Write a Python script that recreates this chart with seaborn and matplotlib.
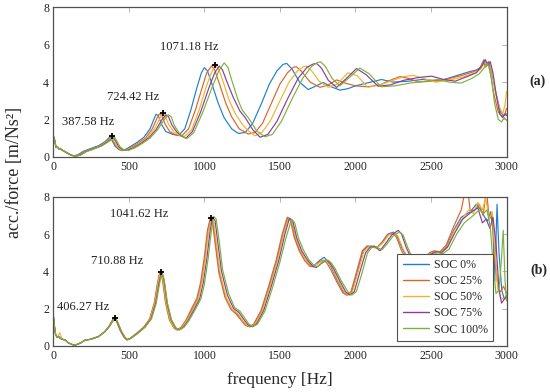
import matplotlib
matplotlib.use("Agg")
import matplotlib.pyplot as plt
import pandas as pd
import seaborn as sns

# ---- data ----
labels = ["SOC 0%", "SOC 25%", "SOC 50%", "SOC 75%", "SOC 100%"]
colors = ["#1f7fcf", "#e0622a", "#f0b42a", "#8a3d99", "#7ab33a"]

# panel (a)
freq_a0 = [0, 8, 18, 28, 38, 48, 60, 75, 95, 115, 135, 160, 200, 250, 300, 340, 360, 375, 390, 410,
           435, 460, 500, 550, 600, 640, 665, 680, 695, 715, 745, 790, 830, 870, 910, 950, 980, 1000, 1020, 1050,
           1090, 1130, 1180, 1225, 1270, 1320, 1380, 1430, 1480, 1520, 1545, 1580, 1630, 1687, 1740, 1786, 1840, 1897, 1950, 2000,
           2100, 2172, 2250, 2350, 2450, 2550, 2650, 2750, 2800, 2830, 2850, 2865, 2880, 2900, 2930, 2960, 2980, 3000]
acc_a0 = [1.15, 0.95, 0.5, 0.55, 0.4, 0.45, 0.35, 0.3, 0.2, 0.1, 0.05, 0.1, 0.3, 0.45, 0.6, 0.8, 0.95, 1.08, 0.85, 0.55,
          0.38, 0.33, 0.5, 0.75, 1.05, 1.5, 2.0, 2.28, 2.2, 1.75, 1.35, 1.2, 1.15, 1.5, 2.5, 3.7, 4.5, 4.78, 4.6, 3.9,
          2.9, 2.1, 1.5, 1.25, 1.3, 1.8, 2.9, 3.9, 4.6, 4.95, 5.0, 4.7, 4.0, 3.6, 3.8, 3.98, 3.75, 3.57, 3.65, 3.8,
          4.0, 4.14, 4.0, 4.05, 4.15, 4.05, 4.3, 4.55, 4.65, 4.8, 5.2, 4.9, 5.1, 4.6, 3.4, 2.4, 2.2, 2.3]

freq_a25 = [0, 8, 18, 28, 38, 48, 60, 75, 95, 118, 140, 165, 205, 255, 305, 345, 365, 382, 397, 417,
            442, 468, 510, 560, 610, 655, 685, 702, 718, 740, 770, 815, 850, 895, 940, 985, 1015, 1048, 1068, 1100,
            1140, 1180, 1230, 1290, 1335, 1385, 1445, 1500, 1550, 1590, 1610, 1645, 1700, 1765, 1820, 1875, 1930, 2000, 2080, 2160,
            2230, 2294, 2350, 2420, 2500, 2600, 2700, 2780, 2820, 2845, 2862, 2878, 2895, 2915, 2945, 2970, 2990, 3000]
acc_a25 = [1.1, 0.9, 0.5, 0.5, 0.45, 0.4, 0.35, 0.28, 0.18, 0.08, 0.04, 0.08, 0.28, 0.42, 0.58, 0.78, 0.92, 1.05, 0.85, 0.55,
           0.38, 0.34, 0.48, 0.72, 1.0, 1.5, 2.05, 2.3, 2.2, 1.75, 1.35, 1.15, 1.12, 1.5, 2.5, 3.7, 4.5, 4.87, 4.65, 3.9,
           2.9, 2.15, 1.5, 1.22, 1.3, 1.8, 2.9, 3.9, 4.5, 4.8, 4.82, 4.55, 4.0, 3.72, 3.85, 4.12, 3.95, 3.8, 3.75, 3.85,
           4.1, 4.3, 4.2, 4.0, 4.05, 4.15, 4.35, 4.55, 4.7, 5.1, 4.8, 5.0, 4.4, 3.4, 2.4, 2.15, 2.3, 2.6]

freq_a50 = [0, 8, 18, 28, 38, 48, 60, 75, 95, 120, 145, 170, 210, 260, 310, 350, 370, 388, 402, 422,
            448, 475, 520, 570, 620, 670, 705, 724, 740, 762, 795, 835, 870, 915, 965, 1010, 1045, 1074, 1095, 1125,
            1165, 1205, 1250, 1290, 1334, 1380, 1435, 1500, 1560, 1615, 1655, 1676, 1710, 1760, 1820, 1880, 1950, 2010, 2082, 2160,
            2250, 2320, 2382, 2450, 2530, 2620, 2720, 2790, 2830, 2855, 2870, 2888, 2905, 2925, 2950, 2975, 2990, 3000]
acc_a50 = [1.1, 0.9, 0.5, 0.55, 0.4, 0.45, 0.35, 0.28, 0.18, 0.08, 0.04, 0.08, 0.28, 0.42, 0.58, 0.78, 0.92, 1.1, 0.85, 0.55,
           0.38, 0.34, 0.48, 0.72, 1.0, 1.5, 2.05, 2.33, 2.2, 1.75, 1.35, 1.15, 1.1, 1.45, 2.5, 3.7, 4.5, 4.91, 4.7, 4.0,
           3.0, 2.3, 1.75, 1.4, 1.12, 1.3, 1.9, 3.0, 4.0, 4.6, 4.82, 4.86, 4.6, 4.05, 3.72, 3.9, 4.5, 4.35, 3.72, 3.85,
           4.1, 4.3, 4.36, 4.2, 4.0, 4.1, 4.3, 4.5, 4.7, 5.1, 4.9, 5.05, 4.5, 3.5, 2.7, 2.3, 2.8, 3.5]

freq_a75 = [0, 8, 18, 28, 38, 48, 60, 75, 95, 122, 148, 175, 215, 265, 315, 355, 378, 398, 412, 432,
            458, 485, 530, 580, 630, 680, 720, 745, 762, 785, 815, 850, 878, 920, 975, 1030, 1068, 1098, 1120, 1150,
            1190, 1235, 1270, 1320, 1368, 1420, 1480, 1550, 1620, 1680, 1720, 1743, 1775, 1820, 1875, 1940, 2007, 2070, 2150, 2230,
            2320, 2420, 2503, 2580, 2660, 2740, 2800, 2840, 2860, 2875, 2892, 2910, 2930, 2955, 2975, 2990, 3000]
acc_a75 = [1.1, 0.9, 0.5, 0.5, 0.42, 0.4, 0.35, 0.28, 0.18, 0.08, 0.04, 0.08, 0.28, 0.42, 0.58, 0.78, 0.92, 1.05, 0.85, 0.55,
           0.38, 0.34, 0.48, 0.72, 1.0, 1.45, 2.0, 2.25, 2.15, 1.7, 1.35, 1.1, 1.0, 1.35, 2.4, 3.7, 4.5, 4.86, 4.65, 4.0,
           3.2, 2.45, 2.1, 1.45, 1.05, 1.2, 1.9, 3.1, 4.2, 4.8, 4.97, 5.0, 4.75, 4.1, 3.72, 4.2, 4.73, 4.4, 3.78, 3.85,
           4.1, 4.25, 4.32, 4.15, 4.05, 4.3, 4.5, 4.9, 5.2, 4.9, 5.1, 4.5, 3.4, 2.3, 2.1, 2.3, 2.2]

freq_a100 = [0, 8, 18, 28, 38, 48, 60, 75, 95, 125, 150, 180, 220, 270, 320, 360, 385, 405, 420, 440,
             465, 495, 540, 590, 640, 690, 735, 761, 780, 800, 830, 860, 885, 930, 990, 1050, 1095, 1131, 1155, 1185,
             1220, 1250, 1290, 1345, 1400, 1450, 1510, 1580, 1650, 1710, 1748, 1769, 1800, 1845, 1897, 1960, 2029, 2090, 2170, 2260,
             2360, 2460, 2545, 2620, 2700, 2770, 2820, 2850, 2870, 2885, 2900, 2920, 2945, 2967, 2985, 3000]
acc_a100 = [1.1, 0.9, 0.5, 0.5, 0.42, 0.4, 0.35, 0.28, 0.18, 0.08, 0.04, 0.08, 0.28, 0.42, 0.58, 0.78, 0.92, 1.05, 0.85, 0.55,
            0.38, 0.34, 0.48, 0.72, 1.0, 1.45, 2.0, 2.25, 2.15, 1.7, 1.3, 1.05, 0.98, 1.3, 2.4, 3.7, 4.6, 5.03, 4.8, 4.0,
            3.1, 2.5, 2.1, 1.4, 1.07, 1.2, 1.9, 3.1, 4.2, 4.85, 5.05, 5.09, 4.85, 4.2, 3.8, 4.25, 4.75, 4.45, 3.75, 3.8,
            3.95, 4.05, 4.14, 4.0, 3.95, 4.2, 4.45, 4.75, 5.0, 4.8, 4.2, 2.9, 2.0, 1.87, 2.1, 1.95]

peak_freq_a = [387.58, 724.42, 1071.18]
peak_acc_a = [1.12, 2.33, 4.9]

# panel (b)
freq_b0 = [0, 8, 15, 25, 35, 45, 60, 80, 100, 130, 150, 180, 210, 250, 300, 340, 370, 395, 408, 420,
           445, 470, 487, 510, 550, 600, 640, 670, 690, 705, 713, 725, 745, 770, 800, 822, 850, 880, 920, 955,
           980, 1005, 1025, 1042, 1058, 1078, 1100, 1140, 1180, 1215, 1245, 1275, 1302, 1330, 1380, 1430, 1480, 1520, 1553, 1575,
           1600, 1632, 1670, 1705, 1725, 1765, 1792, 1815, 1840, 1880, 1920, 1945, 1975, 2010, 2050, 2080, 2110, 2145, 2180, 2215,
           2250, 2275, 2310, 2345, 2400, 2450, 2490, 2520, 2560, 2600, 2650, 2700, 2760, 2800, 2830, 2855, 2875, 2895, 2910, 2922,
           2937, 2950, 2968, 2985, 3000]
acc_b0 = [1.6, 1.0, 0.6, 0.45, 0.5, 0.4, 0.35, 0.3, 0.15, 0.05, 0.05, 0.15, 0.3, 0.35, 0.5, 0.75, 1.05, 1.4, 1.5, 1.3,
          0.8, 0.45, 0.32, 0.4, 0.65, 1.0, 1.45, 2.3, 3.3, 3.9, 3.95, 3.5, 2.3, 1.4, 0.95, 0.85, 1.0, 1.35, 1.95, 2.5,
          3.4, 4.8, 6.2, 6.8, 6.6, 5.3, 3.9, 2.6, 1.95, 1.75, 1.4, 1.1, 1.02, 1.15, 1.9, 3.2, 4.6, 6.0, 6.9, 6.7,
          5.8, 5.1, 4.6, 4.3, 4.3, 4.6, 4.75, 4.55, 4.2, 3.5, 2.9, 2.72, 2.9, 3.9, 5.1, 5.35, 5.35, 5.3, 5.6, 6.0,
          6.1, 5.9, 5.2, 4.7, 4.4, 4.6, 4.9, 5.05, 5.0, 5.3, 6.2, 6.9, 7.2, 7.6, 7.3, 6.9, 6.7, 7.2, 6.2, 3.5,
          7.6, 5.0, 3.0, 2.5, 2.6]

freq_b25 = [0, 8, 15, 25, 35, 45, 60, 80, 100, 130, 150, 180, 210, 250, 300, 340, 368, 393, 406, 418,
            443, 468, 485, 508, 548, 598, 638, 668, 688, 703, 711, 723, 743, 768, 798, 818, 846, 876, 915, 950,
            975, 1000, 1020, 1038, 1054, 1074, 1096, 1136, 1176, 1210, 1240, 1270, 1295, 1325, 1375, 1425, 1475, 1515, 1548, 1570,
            1595, 1627, 1665, 1700, 1720, 1760, 1785, 1810, 1835, 1875, 1915, 1940, 1970, 2005, 2045, 2075, 2105, 2140, 2175, 2210,
            2245, 2270, 2305, 2340, 2400, 2450, 2490, 2520, 2560, 2600, 2650, 2700, 2725, 2742, 2760, 2790, 2820, 2845, 2867, 2885,
            2905, 2925, 2945, 2960, 2980, 3000]
acc_b25 = [1.6, 1.0, 0.6, 0.45, 0.5, 0.4, 0.35, 0.3, 0.15, 0.05, 0.05, 0.15, 0.3, 0.35, 0.5, 0.75, 1.05, 1.4, 1.5, 1.3,
           0.8, 0.45, 0.32, 0.4, 0.65, 1.0, 1.45, 2.3, 3.3, 3.9, 3.97, 3.5, 2.3, 1.4, 0.95, 0.85, 1.0, 1.35, 2.0, 2.55,
           3.4, 4.8, 6.2, 6.82, 6.6, 5.3, 3.9, 2.6, 1.95, 1.7, 1.4, 1.1, 1.02, 1.15, 1.9, 3.2, 4.6, 6.0, 6.9, 6.7,
           5.8, 5.1, 4.55, 4.25, 4.25, 4.5, 4.6, 4.45, 4.1, 3.45, 2.85, 2.72, 2.9, 3.9, 5.1, 5.35, 5.3, 5.25, 5.55, 5.95,
           6.05, 5.85, 5.1, 4.6, 4.4, 4.6, 5.0, 5.1, 5.05, 5.4, 6.4, 7.3, 8.3, 8.5, 7.2, 7.3, 7.6, 7.0, 8.4, 6.8,
           7.0, 4.5, 3.0, 2.9, 3.2, 2.8]

freq_b50 = [0, 8, 15, 25, 35, 42, 50, 60, 80, 100, 130, 150, 180, 210, 250, 300, 340, 372, 397, 410,
            422, 447, 472, 489, 512, 552, 602, 642, 672, 692, 707, 715, 727, 747, 772, 802, 825, 853, 883, 923,
            958, 983, 1008, 1028, 1046, 1062, 1082, 1104, 1144, 1184, 1219, 1249, 1279, 1306, 1334, 1384, 1434, 1484, 1524, 1556,
            1578, 1604, 1636, 1674, 1710, 1730, 1770, 1798, 1820, 1845, 1885, 1925, 1950, 1980, 2015, 2055, 2085, 2115, 2150, 2185,
            2220, 2255, 2280, 2315, 2350, 2400, 2450, 2495, 2525, 2565, 2605, 2655, 2705, 2750, 2780, 2810, 2840, 2862, 2885, 2905,
            2920, 2940, 2960, 2980, 3000]
acc_b50 = [1.6, 1.0, 0.6, 0.45, 0.6, 0.7, 0.5, 0.35, 0.3, 0.15, 0.05, 0.05, 0.15, 0.3, 0.35, 0.5, 0.75, 1.05, 1.4, 1.48,
           1.3, 0.8, 0.45, 0.32, 0.4, 0.65, 1.0, 1.45, 2.3, 3.3, 3.85, 3.9, 3.5, 2.3, 1.4, 0.95, 0.85, 1.0, 1.35, 1.95,
           2.5, 3.4, 4.8, 6.2, 6.78, 6.6, 5.3, 3.9, 2.6, 1.95, 1.75, 1.4, 1.1, 1.02, 1.15, 1.9, 3.2, 4.6, 6.0, 6.85,
           6.7, 5.8, 5.1, 4.55, 4.3, 4.3, 4.5, 4.6, 4.5, 4.2, 3.5, 2.9, 2.72, 2.9, 3.9, 5.05, 5.3, 5.35, 5.3, 5.55,
           5.95, 6.05, 5.9, 5.2, 4.7, 4.4, 4.6, 4.9, 5.05, 5.0, 5.3, 6.2, 6.8, 7.3, 7.1, 7.7, 7.3, 7.9, 6.8, 7.2,
           5.5, 3.3, 2.6, 2.5, 2.7]

freq_b75 = [0, 8, 15, 25, 35, 45, 60, 80, 100, 130, 150, 180, 210, 250, 300, 340, 372, 398, 411, 423,
            448, 473, 490, 513, 555, 606, 647, 678, 698, 713, 721, 733, 753, 779, 810, 832, 861, 892, 932, 968,
            993, 1018, 1038, 1055, 1071, 1091, 1113, 1153, 1193, 1228, 1258, 1288, 1315, 1343, 1393, 1443, 1493, 1533, 1563, 1585,
            1611, 1644, 1683, 1720, 1740, 1780, 1808, 1830, 1855, 1895, 1935, 1962, 1992, 2027, 2067, 2097, 2127, 2162, 2200, 2240,
            2283, 2305, 2335, 2365, 2410, 2460, 2500, 2530, 2570, 2610, 2660, 2710, 2770, 2810, 2840, 2865, 2890, 2910, 2930, 2950,
            2967, 2985, 3000]
acc_b75 = [1.6, 1.0, 0.6, 0.45, 0.5, 0.4, 0.35, 0.3, 0.15, 0.05, 0.05, 0.15, 0.3, 0.35, 0.5, 0.75, 1.05, 1.38, 1.47, 1.3,
           0.8, 0.45, 0.32, 0.4, 0.65, 1.0, 1.45, 2.3, 3.3, 3.85, 3.9, 3.5, 2.3, 1.4, 0.95, 0.85, 1.0, 1.35, 1.95, 2.5,
           3.4, 4.8, 6.2, 6.9, 6.7, 5.4, 4.0, 2.7, 2.0, 1.8, 1.45, 1.12, 1.02, 1.15, 1.9, 3.2, 4.6, 6.0, 6.85, 6.7,
           5.8, 5.1, 4.6, 4.25, 4.2, 4.45, 4.6, 4.45, 4.15, 3.5, 2.9, 2.72, 2.9, 3.9, 5.0, 5.3, 5.35, 5.1, 5.5, 5.95,
           6.2, 6.0, 5.3, 4.75, 4.4, 4.6, 4.9, 5.05, 5.0, 5.3, 6.1, 6.8, 7.2, 7.4, 6.6, 6.8, 6.3, 6.9, 5.5, 3.0,
           2.29, 2.5, 2.7]

freq_b100 = [0, 8, 15, 25, 35, 45, 60, 80, 100, 130, 150, 180, 210, 250, 300, 340, 372, 398, 412, 425,
             450, 475, 492, 515, 557, 608, 650, 680, 700, 715, 723, 735, 755, 782, 813, 836, 866, 898, 940, 976,
             1000, 1025, 1045, 1062, 1078, 1098, 1120, 1160, 1200, 1236, 1266, 1296, 1322, 1350, 1400, 1450, 1500, 1540, 1577, 1598,
             1622, 1655, 1693, 1728, 1748, 1790, 1818, 1840, 1865, 1905, 1950, 1976, 2005, 2040, 2080, 2110, 2140, 2175, 2212, 2250,
             2290, 2315, 2345, 2375, 2420, 2470, 2510, 2540, 2580, 2620, 2670, 2720, 2780, 2820, 2848, 2870, 2892, 2910, 2930, 2950,
             2965, 2978, 2990, 3000]
acc_b100 = [1.6, 1.0, 0.6, 0.45, 0.5, 0.4, 0.35, 0.3, 0.15, 0.05, 0.05, 0.15, 0.3, 0.35, 0.5, 0.75, 1.05, 1.38, 1.45, 1.3,
            0.8, 0.45, 0.32, 0.4, 0.65, 1.0, 1.45, 2.25, 3.2, 3.8, 3.85, 3.5, 2.3, 1.4, 0.95, 0.85, 1.0, 1.35, 1.95, 2.5,
            3.3, 4.7, 6.1, 6.95, 6.8, 5.6, 4.1, 2.8, 2.05, 1.85, 1.5, 1.15, 1.03, 1.15, 1.85, 3.1, 4.5, 5.8, 6.8, 6.6,
            5.8, 5.15, 4.6, 4.3, 4.25, 4.55, 4.6, 4.45, 4.15, 3.5, 2.9, 2.72, 2.9, 3.8, 5.0, 5.3, 5.3, 5.15, 5.5, 5.9,
            6.1, 5.95, 5.3, 4.75, 4.4, 4.6, 4.85, 5.0, 4.95, 5.2, 6.0, 6.6, 7.0, 7.3, 7.1, 7.3, 6.4, 4.5, 2.8, 3.0,
            4.5, 6.2, 3.5, 2.4]

peak_freq_b = [406.27, 710.88, 1041.62]
peak_acc_b = [1.5, 3.97, 6.84]

# where the peak labels sit (data coords)
label_pos_a = [(230, 1.86), (527, 3.18), (901, 5.89)]
label_pos_b = [(197, 2.06), (421, 4.56), (570, 7.07)]


def make_frame(freqs, accs):
    parts = [pd.DataFrame({"freq": f, "acc": a, "series": lab})
             for f, a, lab in zip(freqs, accs, labels)]
    return pd.concat(parts, ignore_index=True)


def style_axes(ax):
    ax.set_xlim(0, 3000)
    ax.set_ylim(0, 8)
    ax.set_xticks(range(0, 3001, 500))
    ax.set_yticks([0, 2, 4, 6, 8])
    ax.set_xlabel("")
    ax.set_ylabel("")
    ax.tick_params(direction="in", length=3.5, width=0.6, color="#aaaaaa",
                   top=True, right=True, labelsize=8.5, pad=3, labelcolor="#222222")
    for s in ax.spines.values():
        s.set_color("#505050")
        s.set_linewidth(0.9)


def draw_panel(ax, df, pk_f, pk_v, pos, legend):
    sns.lineplot(data=df, x="freq", y="acc", hue="series", palette=colors,
                 estimator=None, sort=False, linewidth=0.85, ax=ax, legend=legend)
    sns.scatterplot(x=pk_f, y=pk_v, marker="+", s=22, color="black",
                    linewidth=1.3, ax=ax, zorder=5)
    for f, (tx, ty) in zip(pk_f, pos):
        ax.text(tx, ty, f"{f:.2f} Hz", ha="center", va="center",
                fontsize=9, color="#222222")
    style_axes(ax)


sns.set_style("white")
plt.rcParams["font.family"] = ["Liberation Serif", "DejaVu Serif"]

fig = plt.figure(figsize=(5.5, 3.92), dpi=100)
ax_a = fig.add_axes([0.097, 0.600, 0.824, 0.381])
ax_b = fig.add_axes([0.097, 0.118, 0.824, 0.380])

df_a = make_frame([freq_a0, freq_a25, freq_a50, freq_a75, freq_a100],
                  [acc_a0, acc_a25, acc_a50, acc_a75, acc_a100])
df_b = make_frame([freq_b0, freq_b25, freq_b50, freq_b75, freq_b100],
                  [acc_b0, acc_b25, acc_b50, acc_b75, acc_b100])

draw_panel(ax_a, df_a, peak_freq_a, peak_acc_a, label_pos_a, False)
draw_panel(ax_b, df_b, peak_freq_b, peak_acc_b, label_pos_b, True)

handles, labs = ax_b.get_legend_handles_labels()
leg = ax_b.legend(handles[:5], labs[:5], loc="lower right", bbox_to_anchor=(0.970, 0.032),
                  borderaxespad=0, fontsize=8.6, frameon=True, fancybox=False, framealpha=1,
                  edgecolor="#505050", handlelength=2.2, handletextpad=0.4, labelspacing=0.35,
                  borderpad=0.45)
leg.get_frame().set_linewidth(0.8)
for line in leg.get_lines():
    line.set_linewidth(1.0)

fig.text(0.978, 0.792, "(a)", ha="center", va="center", fontsize=10, fontweight="bold")
fig.text(0.979, 0.311, "(b)", ha="center", va="center", fontsize=10, fontweight="bold")
fig.text(0.027, 0.561, "acc./force [m/Ns²]", rotation=90, ha="center", va="center", fontsize=13)
fig.text(0.509, 0.031, "frequency [Hz]", ha="center", va="center", fontsize=12.5)

fig.savefig("out.png", dpi=100)
